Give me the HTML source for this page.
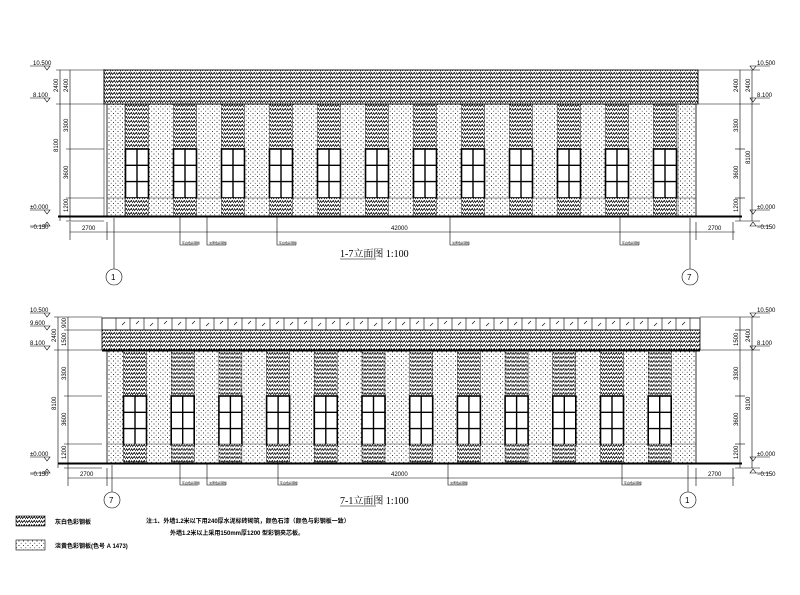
<!DOCTYPE html>
<html><head><meta charset="utf-8"><style>
html,body{margin:0;padding:0;background:#fff;}
svg{display:block;}
text{font-family:"Liberation Sans","Noto Sans CJK SC",sans-serif;fill:#000;}
.s{font-size:6px;}
.t{font-family:"Liberation Serif","Noto Serif CJK SC",serif;font-size:10px;}
.b{font-weight:bold;}
.lb{font-size:3px;}
</style></head><body>
<svg width="800" height="595" viewBox="0 0 800 595" xmlns="http://www.w3.org/2000/svg">
<defs>
<pattern id="h" width="5" height="4" patternUnits="userSpaceOnUse">
<rect width="5" height="4" fill="#fff"/>
<path d="M0,3.2 L1.6,0.7 L2.6,2.6 L4.3,0.3 L5,1.8" stroke="#000" stroke-width="0.75" fill="none"/>
</pattern>
<pattern id="d" width="4.5" height="4.5" patternUnits="userSpaceOnUse">
<rect width="4.5" height="4.5" fill="#fff"/>
<circle cx="1" cy="1" r="0.55" fill="#000"/><circle cx="3.2" cy="3.2" r="0.5" fill="#333"/>
</pattern>
<pattern id="rv" width="10" height="40" patternUnits="userSpaceOnUse">
<rect width="10" height="40" fill="url(#h)"/>
<line x1="0" y1="0" x2="0" y2="40" stroke="#000" stroke-width="0.5"/>
</pattern>
<g id="win">
<rect x="-11.5" y="0" width="23" height="49" fill="#fff" stroke="#000" stroke-width="1.6"/>
<line x1="0" y1="0" x2="0" y2="49" stroke="#000" stroke-width="1.4"/>
<line x1="-11.5" y1="16.3" x2="11.5" y2="16.3" stroke="#000" stroke-width="1.4"/>
<line x1="-11.5" y1="32.6" x2="11.5" y2="32.6" stroke="#000" stroke-width="1.4"/>
</g>
<g id="bt">
<rect x="-11.5" y="104" width="23" height="45" fill="url(#h)" stroke="#000" stroke-width="0.4"/>
<use href="#win" transform="translate(0,149)"/>
<rect x="-11.5" y="198" width="23" height="18" fill="url(#h)" stroke="#000" stroke-width="0.4"/>
</g>
<g id="bb">
<rect x="-11.5" y="351" width="23" height="45" fill="url(#h)" stroke="#000" stroke-width="0.4"/>
<use href="#win" transform="translate(0,396)"/>
<rect x="-11.5" y="444" width="23" height="18" fill="url(#h)" stroke="#000" stroke-width="0.4"/>
</g>
</defs>

<rect x="107" y="104" width="589" height="112" fill="url(#d)" stroke="#000" stroke-width="0.8"/>
<line x1="107" y1="198" x2="696" y2="198" stroke="#000" stroke-width="0.4"/>
<g stroke="#000" stroke-width="0.4">
<line x1="125" y1="104" x2="125" y2="216"/><line x1="678" y1="104" x2="678" y2="216"/>
</g>
<use href="#bt" x="137"/><use href="#bt" x="185"/><use href="#bt" x="233"/><use href="#bt" x="281"/>
<use href="#bt" x="329"/><use href="#bt" x="377"/><use href="#bt" x="425"/><use href="#bt" x="473"/>
<use href="#bt" x="521"/><use href="#bt" x="569"/><use href="#bt" x="617"/><use href="#bt" x="665"/>
<rect x="104" y="70" width="594" height="34" fill="url(#rv)" stroke="#000" stroke-width="0.9"/>
<line x1="104" y1="69" x2="104" y2="216" stroke="#000" stroke-width="0.5"/>
<line x1="58" y1="216.5" x2="742" y2="216.5" stroke="#000" stroke-width="2"/>
<g stroke="#000" stroke-width="0.6" fill="none">
<line x1="60" y1="70" x2="60" y2="221"/><line x1="70" y1="70" x2="70" y2="221"/>
<line x1="56" y1="70" x2="104" y2="70"/><line x1="56" y1="104" x2="104" y2="104"/>
<line x1="66" y1="149" x2="104" y2="149"/><line x1="66" y1="198" x2="104" y2="198"/>
<line x1="66" y1="221" x2="104" y2="221"/>
<line x1="70" y1="232" x2="735" y2="232"/>
<line x1="107" y1="222" x2="107" y2="240"/><line x1="696" y1="222" x2="696" y2="240"/>
<line x1="70" y1="222" x2="70" y2="240"/><line x1="733" y1="222" x2="733" y2="240"/>
<line x1="114" y1="218" x2="114" y2="269"/><line x1="690" y1="218" x2="690" y2="269"/>
<line x1="740" y1="70" x2="740" y2="221"/><line x1="752" y1="70" x2="752" y2="221"/>
<line x1="698" y1="70" x2="760" y2="70"/><line x1="698" y1="104" x2="760" y2="104"/>
<line x1="735" y1="149" x2="745" y2="149"/><line x1="735" y1="198" x2="745" y2="198"/>
<line x1="735" y1="221" x2="760" y2="221"/>
<path d="M30,66 H50 L47,70 L44,66"/><path d="M30,98 H50 L47,102 L44,98"/>
<path d="M30,210 H50 L47,214 L44,210"/><path d="M30,226 H50 L47,222 L44,226"/>
<path d="M770,66 H750 L753,70 L756,66"/><path d="M770,98 H750 L753,102 L756,98"/>
<path d="M770,210 H750 L753,214 L756,210"/><path d="M770,226 H750 L753,222 L756,226"/>
<circle cx="114" cy="277" r="8"/><circle cx="690" cy="277" r="8"/>
<path d="M180,216 V245 H198"/><path d="M207,216 V245 H226"/><path d="M277,216 V245 H296"/><path d="M450,216 V245 H469"/><path d="M620,216 V245 H639"/>
<line x1="340" y1="259" x2="376" y2="259"/>
</g>
<g class="lb">
<text x="182" y="244">灰白色彩钢板</text><text x="209" y="244">淡黄色彩钢板</text><text x="279" y="244">灰白色彩钢板</text><text x="452" y="244">淡黄色彩钢板</text><text x="622" y="244">灰白色彩钢板</text>
</g>
<g class="s">
<text x="33" y="65">10.500</text><text x="33" y="97">8.100</text>
<text x="30" y="209">±0.000</text><text x="30" y="229">−0.150</text>
<text x="757" y="65">10.500</text><text x="757" y="97">8.100</text>
<text x="757" y="209">±0.000</text><text x="757" y="229">−0.150</text>
<text x="82" y="230">2700</text><text x="391" y="230">42000</text><text x="708" y="230">2700</text>
<text transform="translate(58,92) rotate(-90)">2400</text><text transform="translate(68,92) rotate(-90)">2400</text>
<text transform="translate(68,132) rotate(-90)">3300</text><text transform="translate(68,179) rotate(-90)">3600</text>
<text transform="translate(68,212) rotate(-90)">1200</text><text transform="translate(58,152) rotate(-90)">8100</text>
<text transform="translate(738,92) rotate(-90)">2400</text><text transform="translate(750,92) rotate(-90)">2400</text>
<text transform="translate(738,132) rotate(-90)">3300</text><text transform="translate(738,179) rotate(-90)">3600</text>
<text transform="translate(738,212) rotate(-90)">1200</text><text transform="translate(750,164) rotate(-90)">8100</text>
</g>
<text x="111" y="280" class="s" style="font-size:8px">1</text><text x="687" y="280" class="s" style="font-size:8px">7</text>
<text x="340" y="257" class="t">1-7立面图 1:100</text>

<rect x="107" y="351" width="589" height="112" fill="url(#d)" stroke="#000" stroke-width="0.8"/>
<line x1="107" y1="444" x2="696" y2="444" stroke="#000" stroke-width="0.4"/>
<use href="#bb" x="135"/><use href="#bb" x="182.7"/><use href="#bb" x="230.4"/><use href="#bb" x="278.1"/>
<use href="#bb" x="325.8"/><use href="#bb" x="373.5"/><use href="#bb" x="421.2"/><use href="#bb" x="468.9"/>
<use href="#bb" x="516.6"/><use href="#bb" x="564.3"/><use href="#bb" x="612"/><use href="#bb" x="659.7"/>
<rect x="102" y="318" width="598" height="12" fill="#fff" stroke="#000" stroke-width="0.8"/>
<g stroke="#000" stroke-width="0.6">
<path d="M116,318V330M130,318V330M144,318V330M158,318V330M172,318V330M186,318V330M200,318V330M214,318V330M228,318V330M242,318V330M256,318V330M270,318V330M284,318V330M298,318V330M312,318V330M326,318V330M340,318V330M354,318V330M368,318V330M382,318V330M396,318V330M410,318V330M424,318V330M438,318V330M452,318V330M466,318V330M480,318V330M494,318V330M508,318V330M522,318V330M536,318V330M550,318V330M564,318V330M578,318V330M592,318V330M606,318V330M620,318V330M634,318V330M648,318V330M662,318V330M676,318V330M690,318V330"/>
<path d="M122,325l3,-3M136,324l3,-3M150,326l3,-3M164,324l3,-3M178,325l3,-3M192,324l3,-3M206,326l3,-3M220,324l3,-3M234,325l3,-3M248,324l3,-3M262,326l3,-3M276,324l3,-3M290,325l3,-3M304,324l3,-3M318,326l3,-3M332,324l3,-3M346,325l3,-3M360,324l3,-3M374,326l3,-3M388,324l3,-3M402,325l3,-3M416,324l3,-3M430,326l3,-3M444,324l3,-3M458,325l3,-3M472,324l3,-3M486,326l3,-3M500,324l3,-3M514,325l3,-3M528,324l3,-3M542,326l3,-3M556,324l3,-3M570,325l3,-3M584,324l3,-3M598,326l3,-3M612,324l3,-3M626,325l3,-3M640,324l3,-3M654,326l3,-3M668,324l3,-3M682,325l3,-3"/>
</g>
<rect x="102" y="330" width="598" height="20" fill="url(#rv)" stroke="#000" stroke-width="0.8"/>
<line x1="102" y1="350.5" x2="700" y2="350.5" stroke="#000" stroke-width="2"/>
<line x1="58" y1="463.5" x2="742" y2="463.5" stroke="#000" stroke-width="2"/>
<g stroke="#000" stroke-width="0.6" fill="none">
<line x1="58" y1="317" x2="58" y2="468"/><line x1="68" y1="317" x2="68" y2="468"/>
<line x1="54" y1="317" x2="102" y2="317"/><line x1="64" y1="330" x2="102" y2="330"/>
<line x1="54" y1="350" x2="102" y2="350"/><line x1="64" y1="396" x2="102" y2="396"/>
<line x1="64" y1="444" x2="102" y2="444"/><line x1="64" y1="468" x2="102" y2="468"/>
<line x1="68" y1="478" x2="735" y2="478"/>
<line x1="107" y1="468" x2="107" y2="486"/><line x1="696" y1="468" x2="696" y2="486"/>
<line x1="68" y1="468" x2="68" y2="486"/><line x1="733" y1="468" x2="733" y2="486"/>
<line x1="112" y1="465" x2="112" y2="492"/><line x1="688" y1="465" x2="688" y2="492"/>
<line x1="740" y1="317" x2="740" y2="468"/><line x1="752" y1="317" x2="752" y2="468"/>
<line x1="700" y1="317" x2="760" y2="317"/><line x1="735" y1="330" x2="745" y2="330"/>
<line x1="700" y1="350" x2="760" y2="350"/><line x1="735" y1="396" x2="745" y2="396"/>
<line x1="735" y1="444" x2="745" y2="444"/><line x1="735" y1="468" x2="760" y2="468"/>
<path d="M30,313 H50 L47,317 L44,313"/><path d="M30,326 H50 L47,330 L44,326"/><path d="M30,346 H50 L47,350 L44,346"/>
<path d="M30,457 H50 L47,461 L44,457"/><path d="M30,473 H50 L47,469 L44,473"/>
<path d="M770,313 H750 L753,317 L756,313"/><path d="M770,346 H750 L753,350 L756,346"/>
<path d="M770,457 H750 L753,461 L756,457"/><path d="M770,473 H750 L753,469 L756,473"/>
<circle cx="112" cy="500" r="8"/><circle cx="688" cy="500" r="8"/>
<path d="M180,463 V485 H198"/><path d="M207,463 V485 H226"/><path d="M278,463 V485 H297"/><path d="M448,463 V485 H467"/><path d="M622,463 V485 H641"/>
<line x1="340" y1="506" x2="376" y2="506"/>
</g>
<g class="lb">
<text x="182" y="484">灰白色彩钢板</text><text x="209" y="484">淡黄色彩钢板</text><text x="280" y="484">灰白色彩钢板</text><text x="450" y="484">淡黄色彩钢板</text><text x="624" y="484">灰白色彩钢板</text>
</g>
<g class="s">
<text x="30" y="312">10.500</text><text x="30" y="325">9.600</text><text x="30" y="345">8.100</text>
<text x="30" y="456">±0.000</text><text x="30" y="476">−0.150</text>
<text x="757" y="312">10.500</text><text x="757" y="345">8.100</text>
<text x="757" y="456">±0.000</text><text x="757" y="476">−0.150</text>
<text x="80" y="476">2700</text><text x="391" y="476">42000</text><text x="708" y="476">2700</text>
<text transform="translate(66,328) rotate(-90)">900</text><text transform="translate(56,342) rotate(-90)">2400</text>
<text transform="translate(66,346) rotate(-90)">1500</text><text transform="translate(66,380) rotate(-90)">3300</text>
<text transform="translate(66,426) rotate(-90)">3600</text><text transform="translate(66,459) rotate(-90)">1200</text>
<text transform="translate(56,410) rotate(-90)">8100</text>
<text transform="translate(738,346) rotate(-90)">1500</text><text transform="translate(750,342) rotate(-90)">2400</text>
<text transform="translate(738,380) rotate(-90)">3300</text><text transform="translate(738,426) rotate(-90)">3600</text>
<text transform="translate(738,459) rotate(-90)">1200</text><text transform="translate(750,410) rotate(-90)">8100</text>
</g>
<text x="109" y="503" class="s" style="font-size:8px">7</text><text x="685" y="503" class="s" style="font-size:8px">1</text>
<text x="340" y="504" class="t">7-1立面图 1:100</text>

<rect x="16" y="516" width="29" height="10" fill="url(#h)" stroke="#000" stroke-width="0.6"/>
<rect x="16" y="540" width="29" height="10" fill="url(#d)" stroke="#000" stroke-width="0.6"/>
<text x="55" y="524" class="b" style="font-size:6px">灰白色彩钢板</text>
<text x="55" y="548" class="b" style="font-size:6px">淡黄色彩钢板(色号 A 1473)</text>
<text x="146" y="523" class="b" style="font-size:6px">注:1、外墙1.2米以下用240厚水泥标砖砌筑，颜色石漆（颜色与彩钢板一致）</text>
<text x="170" y="535" class="b" style="font-size:6px">外墙1.2米以上采用150mm厚1200 型彩钢夹芯板。</text>
</svg>
</body></html>
